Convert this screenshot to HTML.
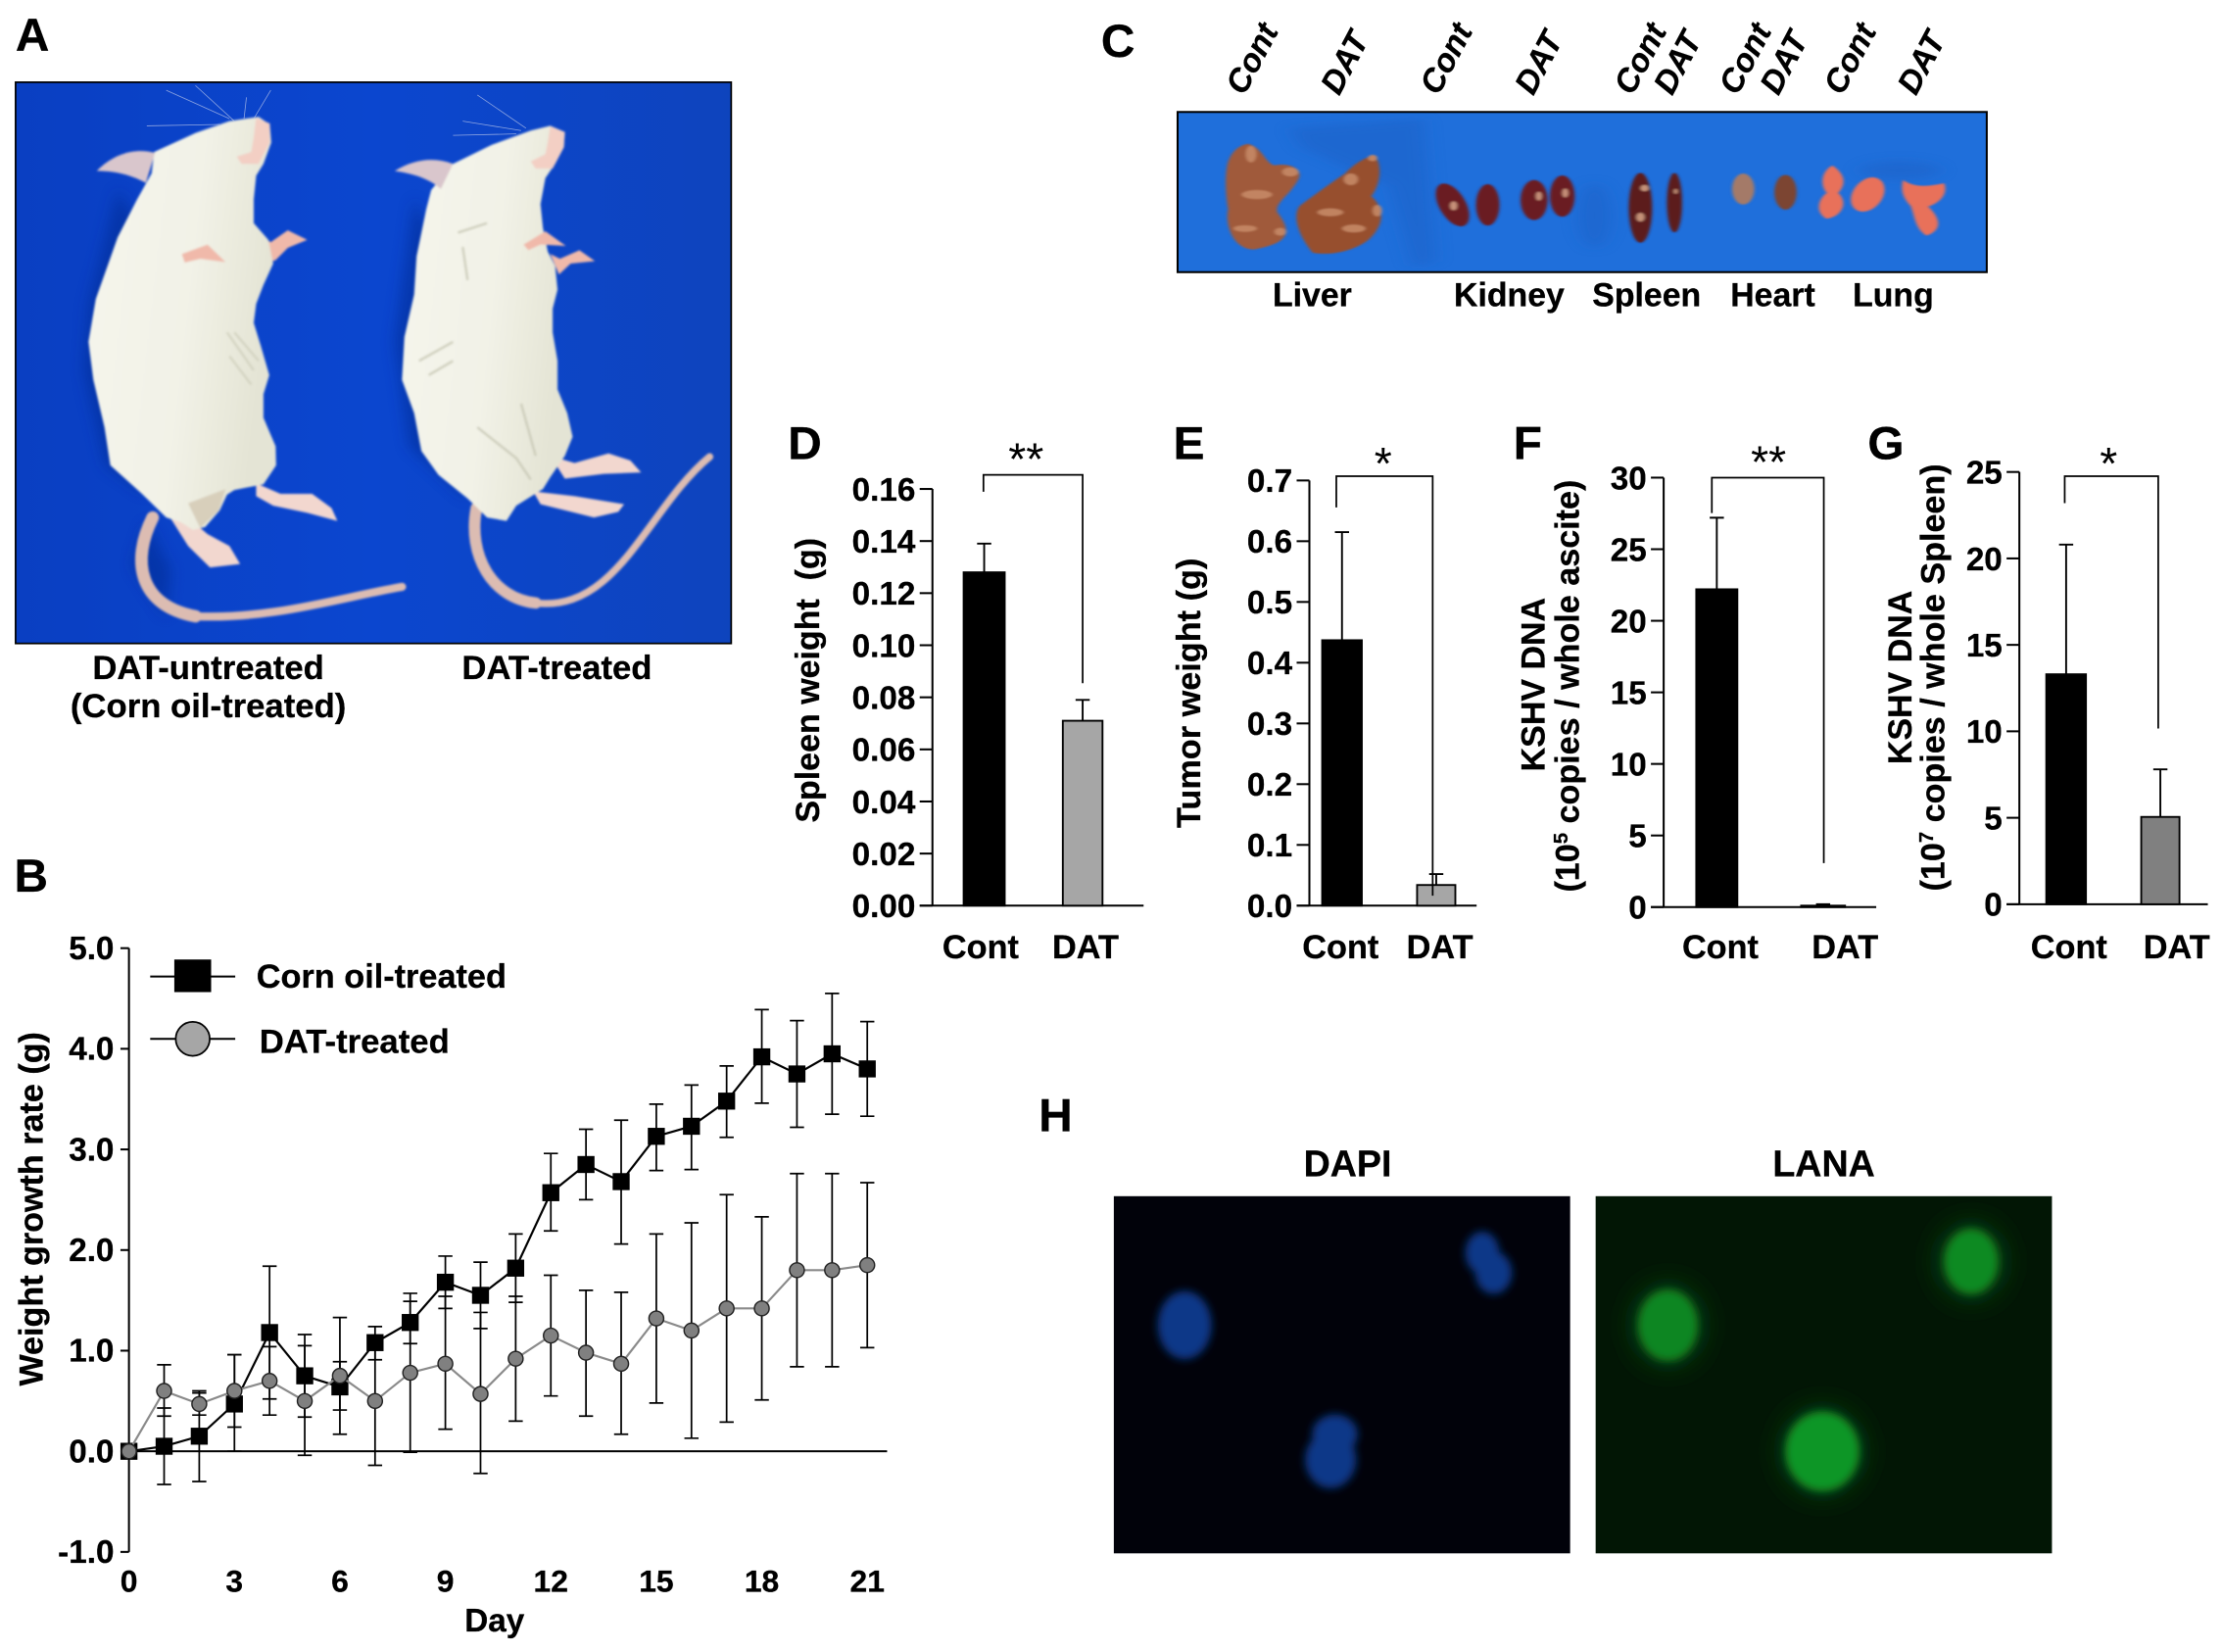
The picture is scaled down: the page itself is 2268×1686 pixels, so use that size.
<!DOCTYPE html>
<html lang="en">
<head>
<meta charset="utf-8">
<title>DAT treatment figure</title>
<style>
html,body{margin:0;padding:0;background:#fff;}
svg{display:block;}
text{font-family:"Liberation Sans",Arial,sans-serif;font-weight:bold;fill:#000;stroke:#000;stroke-width:0.2;}
</style>
</head>
<body>
<svg id="fig" xmlns="http://www.w3.org/2000/svg" width="2268" height="1686" viewBox="0 0 1568 1165.6">
<defs>
<filter id="soft" x="-10%" y="-10%" width="120%" height="120%"><feGaussianBlur stdDeviation="2.2"/></filter>
<filter id="softOrgan" x="-10%" y="-10%" width="120%" height="120%"><feGaussianBlur stdDeviation="2.5"/></filter>
<filter id="shadow" x="-30%" y="-30%" width="160%" height="160%"><feGaussianBlur stdDeviation="14"/></filter>
<filter id="glow" x="-50%" y="-50%" width="200%" height="200%"><feGaussianBlur stdDeviation="3"/></filter>
<filter id="glow2" x="-80%" y="-80%" width="260%" height="260%"><feGaussianBlur stdDeviation="10"/></filter>
<linearGradient id="fur" x1="0" y1="0" x2="1" y2="0.25"><stop offset="0" stop-color="#f5f5ec"/><stop offset="0.6" stop-color="#f2f2e7"/><stop offset="1" stop-color="#e4e4d5"/></linearGradient>
<linearGradient id="bgA" x1="0" y1="0" x2="1" y2="0"><stop offset="0" stop-color="#0a3fc2"/><stop offset="0.5" stop-color="#0b46cf"/><stop offset="1" stop-color="#0e44bd"/></linearGradient>
</defs>

<!-- Panel A -->
<text x="11" y="36" font-size="33">A</text>
<rect x="11" y="58" width="505" height="396" fill="url(#bgA)" stroke="#000" stroke-width="1.2"/>
<g transform="translate(0.7,0) scale(0.343,0.335)">
  <g fill="#062c92" opacity="0.55" filter="url(#shadow)">
    <path d="M240,400 L180,640 L170,780 L215,980 L300,1040 L300,500Z"/>
    <path d="M850,420 L810,720 L840,940 L960,1050 L940,600Z"/>
    <path d="M300,1100 L270,1190 L340,1300 L350,1200Z"/>
  </g>
  <g filter="url(#soft)">
    <g>
      <path d="M312,1090 C268,1180 282,1275 400,1298" fill="none" stroke="#dcbcb2" stroke-width="26" stroke-linecap="round"/>
      <path d="M400,1298 C560,1305 700,1258 825,1236" fill="none" stroke="#dcbcb2" stroke-width="17" stroke-linecap="round"/>
      <path d="M525,1018 L575,1040 L640,1040 L680,1070 L692,1097 L630,1080 L560,1065 L525,1045Z" fill="#f2d7cf"/>
      <path d="M345,1085 L385,1090 L425,1125 L470,1150 L492,1188 L430,1195 L385,1150Z" fill="#f2d7cf"/>
      <path d="M525,490 L555,510 L590,485 L630,505 L590,522 L565,548 L530,560Z" fill="#f0b9aa"/>
      <path d="M553,262 L556,300 L540,345 L525,370 L520,420 L520,470 L550,505 L560,555 L540,600 L525,640 L520,680 L535,730 L552,790 L540,830 L540,880 L565,940 L566,980 L540,1020 L480,1032 L465,1042 L450,1075 L420,1110 L395,1116 L370,1100 L340,1090 L290,1040 L225,980 L213,900 L190,800 L180,720 L195,630 L240,500 L280,420 L310,365 L315,320 L400,280 L470,255 L530,246Z" fill="url(#fur)"/>
      <path d="M197,360 C235,320 280,312 317,322 L298,385 C260,365 230,360 197,360Z" fill="#d9c6cc"/>
      <path d="M525,248 L553,260 L553,300 L530,345 L495,345 L485,330 L515,320 L520,290Z" fill="#f3cfc4"/>
      <path d="M372,535 L425,515 L462,552 L410,545 L378,553Z" fill="#f0b9aa"/>
      <path d="M385,1060 L462,1030 L448,1075 L410,1112Z" fill="#d8cfbb"/>
      <g stroke="#cfcfbd" stroke-width="5" fill="none" opacity="0.8">
        <path d="M465,700 L520,780 M480,700 L530,760 M470,750 L515,810"/>
      </g>
    </g>
    <g>
      <path d="M978,1070 C960,1170 1010,1260 1100,1270" fill="none" stroke="#dcbcb2" stroke-width="24" stroke-linecap="round"/>
      <path d="M1100,1270 C1270,1290 1330,1070 1458,962" fill="none" stroke="#dcbcb2" stroke-width="15" stroke-linecap="round"/>
      <path d="M1130,960 L1180,975 L1250,955 L1295,970 L1317,995 L1240,998 L1160,1008Z" fill="#f2d7cf"/>
      <path d="M1095,1035 L1180,1045 L1282,1062 L1270,1078 L1220,1090 L1110,1062Z" fill="#f2d7cf"/>
      <path d="M1130,535 L1150,545 L1190,527 L1222,550 L1172,555 L1148,578Z" fill="#f0b9aa"/>
      <path d="M1160,278 L1158,310 L1140,345 L1120,375 L1110,430 L1115,480 L1125,530 L1140,560 L1145,610 L1135,650 L1135,700 L1145,760 L1145,820 L1165,870 L1176,920 L1160,960 L1130,1005 L1115,1030 L1060,1065 L1040,1097 L1000,1090 L960,1050 L900,1000 L865,950 L850,870 L825,800 L830,710 L850,620 L855,540 L875,440 L885,400 L930,345 L1010,305 L1090,275 L1130,265Z" fill="url(#fur)"/>
      <path d="M810,360 C850,335 890,330 930,345 L905,398 C880,375 845,365 810,360Z" fill="#d9c6cc"/>
      <path d="M1130,266 L1160,278 L1158,310 L1135,355 L1100,355 L1090,340 L1120,325 L1125,300Z" fill="#f3cfc4"/>
      <path d="M1075,515 L1120,487 L1162,518 L1110,515 L1085,527Z" fill="#f0b9aa"/>
      <g stroke="#c8c8b5" stroke-width="5" fill="none" opacity="0.85">
        <path d="M980,900 L1060,965 L1090,1010 M860,760 L930,720 M880,790 L930,760 M1070,850 L1100,960 M940,490 L1000,470 M950,520 L960,590"/>
      </g>
    </g>
  </g>
  <g stroke="#b9c6ea" stroke-width="1.6" fill="none" opacity="0.75">
    <path d="M480,255 L400,180 M470,250 L340,190 M500,250 L505,205 M520,250 L555,190 M450,262 L300,265 M1080,270 L980,200 M1070,275 L950,255 M1060,282 L930,285"/>
  </g>
</g>
<text x="147" y="479" font-size="24" text-anchor="middle">DAT-untreated</text>
<text x="147" y="506" font-size="24" text-anchor="middle">(Corn oil-treated)</text>
<text x="393" y="479" font-size="24" text-anchor="middle">DAT-treated</text>

<!-- Panel C -->
<text x="777" y="40" font-size="33">C</text>
<g font-size="23">
  <text transform="translate(878,68) rotate(-62)" style="font-style:italic">Cont</text>
  <text transform="translate(945,68) rotate(-62)" style="font-style:italic">DAT</text>
  <text transform="translate(1015,68) rotate(-62)" style="font-style:italic">Cont</text>
  <text transform="translate(1082,68) rotate(-62)" style="font-style:italic">DAT</text>
  <text transform="translate(1152,68) rotate(-62)" style="font-style:italic">Cont</text>
  <text transform="translate(1180,68) rotate(-62)" style="font-style:italic">DAT</text>
  <text transform="translate(1226,68) rotate(-62)" style="font-style:italic">Cont</text>
  <text transform="translate(1255,68) rotate(-62)" style="font-style:italic">DAT</text>
  <text transform="translate(1300,68) rotate(-62)" style="font-style:italic">Cont</text>
  <text transform="translate(1352,68) rotate(-62)" style="font-style:italic">DAT</text>
</g>
<rect x="831" y="79" width="571" height="113" fill="#1f6fdb" stroke="#000" stroke-width="1.4"/>
<g transform="translate(760.5,1.4) scale(0.4145,0.2283)">
  <g fill="#1a62c8" opacity="0.55" filter="url(#shadow)">
    <path d="M360,390 L590,360 L610,800 L570,820 L530,570 L380,450Z"/>
    <ellipse cx="880" cy="660" rx="28" ry="100"/>
    <ellipse cx="1400" cy="520" rx="70" ry="30"/>
  </g>
  <g filter="url(#softOrgan)">
    <path d="M290,438 C315,450 320,500 335,505 C365,495 385,520 375,550 C360,600 335,620 340,650 C365,710 362,745 300,765 C265,765 250,690 256,640 C252,600 250,540 255,500 C260,470 270,445 290,438Z" fill="#a05a3a"/>
    <path d="M505,472 C518,500 517,560 500,600 C524,640 522,690 495,735 C470,770 430,785 400,775 C375,720 365,660 378,630 C400,600 430,560 455,530 C470,500 490,480 505,472Z" fill="#97502f"/>
    <g fill="#c98c6a" opacity="0.85">
      <ellipse cx="295" cy="470" rx="9" ry="26"/><ellipse cx="362" cy="525" rx="14" ry="14"/><ellipse cx="305" cy="595" rx="26" ry="14"/><ellipse cx="285" cy="700" rx="20" ry="10"/><ellipse cx="345" cy="710" rx="10" ry="12"/>
      <ellipse cx="502" cy="482" rx="8" ry="10"/><ellipse cx="465" cy="548" rx="12" ry="18"/><ellipse cx="510" cy="645" rx="8" ry="18"/><ellipse cx="430" cy="650" rx="22" ry="12"/><ellipse cx="470" cy="700" rx="20" ry="12"/>
    </g>
    <g fill="#6b1a22">
      <ellipse cx="638" cy="627" rx="24" ry="68" transform="rotate(-14 638 627)"/>
      <ellipse cx="698" cy="627" rx="20" ry="64"/>
      <ellipse cx="777" cy="612" rx="23" ry="62"/>
      <ellipse cx="825" cy="600" rx="21" ry="64"/>
    </g>
    <g fill="#5c1a1c">
      <ellipse cx="958" cy="636" rx="20" ry="108"/>
      <ellipse cx="1016" cy="620" rx="13" ry="92"/>
    </g>
    <g fill="#e0b090" opacity="0.8">
      <ellipse cx="965" cy="575" rx="7" ry="10"/><ellipse cx="958" cy="665" rx="7" ry="14"/><ellipse cx="1018" cy="585" rx="3" ry="8"/>
      <ellipse cx="640" cy="630" rx="6" ry="14"/><ellipse cx="785" cy="600" rx="5" ry="14"/><ellipse cx="830" cy="590" rx="5" ry="14"/>
    </g>
    <ellipse cx="1133" cy="578" rx="19" ry="48" fill="#a47a68"/>
    <ellipse cx="1205" cy="588" rx="19" ry="54" fill="#7c4430"/>
    <g fill="#e8715a">
      <path d="M1285,505 C1305,530 1310,560 1295,590 C1312,620 1302,662 1275,670 C1255,650 1260,610 1275,590 C1262,560 1268,520 1285,505Z"/>
      <ellipse cx="1345" cy="595" rx="27" ry="54" transform="rotate(12 1345 595)"/>
      <path d="M1405,550 C1425,575 1450,570 1475,560 C1482,590 1470,620 1448,632 C1470,670 1472,705 1445,722 C1425,700 1425,660 1418,630 C1402,600 1402,575 1405,550Z"/>
    </g>
  </g>
</g>
<g font-size="23.4" text-anchor="middle">
  <text x="926" y="216">Liver</text>
  <text x="1065" y="216">Kidney</text>
  <text x="1162" y="216">Spleen</text>
  <text x="1251" y="216">Heart</text>
  <text x="1336" y="216">Lung</text>
</g>

<!-- Panel labels -->
<text x="10" y="629" font-size="33">B</text>
<text x="556" y="324" font-size="33">D</text>
<text x="828" y="324" font-size="33">E</text>
<text x="1068" y="324" font-size="33">F</text>
<text x="1318" y="324" font-size="33">G</text>
<text x="733" y="798" font-size="33">H</text>

<!-- Bar chart titles -->
<text transform="translate(578,480) rotate(-90)" font-size="23.5" text-anchor="middle" xml:space="preserve">Spleen weight  (g)</text>
<text transform="translate(847,489) rotate(-90)" font-size="23.7" text-anchor="middle">Tumor weight (g)</text>
<text transform="translate(1090,483) rotate(-90)" font-size="23.5" text-anchor="middle">KSHV DNA</text>
<text transform="translate(1114,484) rotate(-90)" font-size="23.6" text-anchor="middle">(10<tspan dy="-8" font-size="14">5</tspan><tspan dy="8"> copies / whole ascite)</tspan></text>
<text transform="translate(1349,478) rotate(-90)" font-size="23.5" text-anchor="middle">KSHV DNA</text>
<text transform="translate(1372,478) rotate(-90)" font-size="23.6" text-anchor="middle">(10<tspan dy="-8" font-size="14">7</tspan><tspan dy="8"> copies / whole Spleen)</tspan></text>

<!-- Panel H -->
<text x="951" y="830" font-size="26" text-anchor="middle">DAPI</text>
<text x="1287" y="830" font-size="26" text-anchor="middle">LANA</text>
<g>
  <rect x="786" y="844" width="322" height="252" fill="#01020a"/>
  <g fill="#0a3888" filter="url(#glow)">
    <ellipse cx="836" cy="935" rx="19" ry="24"/>
    <g>
      <ellipse cx="1046" cy="884" rx="12" ry="15"/>
      <ellipse cx="1054" cy="898" rx="13" ry="15"/>
    </g>
    <g>
      <ellipse cx="942" cy="1012" rx="16" ry="14"/>
      <ellipse cx="939" cy="1030" rx="18" ry="20"/>
    </g>
  </g>
</g>
<g>
  <rect x="1126" y="844" width="322" height="252" fill="#021605"/>
  <g fill="#0c4a14" filter="url(#glow2)">
    <ellipse cx="1177" cy="935" rx="24" ry="28"/><ellipse cx="1391" cy="890" rx="23" ry="26"/><ellipse cx="1286" cy="1024" rx="28" ry="30"/>
  </g>
  <g filter="url(#glow)">
    <ellipse cx="1177" cy="935" rx="21" ry="25" fill="#0f8622"/>
    <ellipse cx="1391" cy="890" rx="19" ry="23" fill="#0f8a22"/>
    <ellipse cx="1286" cy="1024" rx="26" ry="28" fill="#109628"/>
  </g>
</g>

<g id="lineChart"></g>
<g id="barCharts"></g>
</svg>

<script>
// ---- Panel B data ----
const days = [0,1,2,3,4,5,6,7,8,9,10,11,12,13,14,15,16,17,18,19,20,21];
const cornMean  = [0,0.05,0.15,0.47,1.18,0.75,0.64,1.08,1.28,1.68,1.55,1.82,2.57,2.85,2.68,3.13,3.23,3.48,3.92,3.75,3.95,3.80];
const cornUpper = [0,0.43,0.60,0.96,1.84,1.16,0.89,1.24,1.57,1.94,1.88,2.16,2.96,3.20,3.29,3.45,3.64,3.83,4.39,4.28,4.55,4.27];
const cornLower = [0,-0.33,-0.30,0.00,0.52,0.34,0.41,0.91,1.07,1.42,1.22,1.48,2.19,2.50,2.06,2.79,2.80,3.12,3.46,3.22,3.35,3.33];
const datMean   = [0,0.60,0.47,0.60,0.70,0.50,0.75,0.50,0.78,0.87,0.57,0.92,1.15,0.98,0.87,1.32,1.20,1.42,1.42,1.80,1.80,1.85];
const datUpper  = [0,0.86,0.58,0.96,1.04,1.05,1.33,1.14,1.49,1.54,1.38,1.54,1.75,1.60,1.58,2.16,2.27,2.55,2.33,2.76,2.76,2.67];
const datLower  = [0,0.35,0.36,0.24,0.36,-0.04,0.17,-0.14,-0.01,0.22,-0.22,0.30,0.55,0.35,0.17,0.48,0.13,0.29,0.51,0.84,0.84,1.03];
const lineYTicks = [5,4,3,2,1,0,-1];
const lineXTicks = [0,3,6,9,12,15,18,21];

// ---- Panel D-G data ----
const barCategories = ['Cont','DAT'];
const spleenValues = [0.128,0.071];
const spleenErrors = [0.139,0.079];
const spleenTicks = [0,0.02,0.04,0.06,0.08,0.10,0.12,0.14,0.16];
const tumorValues = [0.437,0.034];
const tumorErrors = [0.615,0.052];
const tumorTicks = [0,0.1,0.2,0.3,0.4,0.5,0.6,0.7];
const asciteValues = [22.2,0.1];
const asciteErrors = [27.2,0.2];
const asciteTicks = [0,5,10,15,20,25,30];
const spleenCopyValues = [13.3,5.05];
const spleenCopyErrors = [20.8,7.8];
const spleenCopyTicks = [0,5,10,15,20,25];

const NS = 'http://www.w3.org/2000/svg';
function mk(parent, tag, attrs, txt) {
  const e = document.createElementNS(NS, tag);
  for (const k in attrs) e.setAttribute(k, attrs[k]);
  if (txt !== undefined) e.textContent = txt;
  parent.appendChild(e);
  return e;
}
const LW = 1.4;

// ---- Line chart ----
(function () {
  const root = document.getElementById('lineChart');
  const sx = d => 91 + (d - 0) * (612 - 91) / 21;
  const sy = v => 1024 - v * (1024 - 669) / 5;

  const yAxis = mk(root, 'line', {x1: sx(0), x2: sx(0), y1: sy(5), y2: sy(-1), stroke: '#000', 'stroke-width': LW});
  
  
  const zero = mk(root, 'line', {x1: sx(0), x2: 626, y1: sy(0), y2: sy(0), stroke: '#000', 'stroke-width': LW});
  
  

  lineYTicks.forEach(v => {
    const t = mk(root, 'line', {x1: sx(0) - 6, x2: sx(0), y1: sy(v), y2: sy(v), stroke: '#000', 'stroke-width': LW});
    
    
    const l = mk(root, 'text', {x: sx(0) - 10.5, y: sy(v) + 7.8, 'font-size': 23, 'text-anchor': 'end'}, v.toFixed(1));
    
    
  });
  lineXTicks.forEach(d => {
    const l = mk(root, 'text', {x: sx(d), y: 1123, 'font-size': 22, 'text-anchor': 'middle'}, String(d));
    
    
  });
  const xt = mk(root, 'text', {x: 349, y: 1151, 'font-size': 23, 'text-anchor': 'middle'}, 'Day');
  
  
  const yt = mk(root, 'text', {transform: 'translate(30,853) rotate(-90)', 'font-size': 23.6, 'text-anchor': 'middle'}, 'Weight growth rate (g)');
  
  

  function errorBars(upper, lower, label) {
    days.forEach((d, i) => {
      if (upper[i] === lower[i]) return;
      const g = mk(root, 'path', {
        d: 'M' + sx(d) + ',' + sy(upper[i]) + 'V' + sy(lower[i]) +
           'M' + (sx(d) - 5) + ',' + sy(upper[i]) + 'h10' +
           'M' + (sx(d) - 5) + ',' + sy(lower[i]) + 'h10',
        fill: 'none', stroke: '#000', 'stroke-width': 1.2});
      
      
    });
  }
  errorBars(cornUpper, cornLower, 'corn-oil');
  errorBars(datUpper, datLower, 'dat');

  const cornLine = mk(root, 'polyline', {points: days.map((d, i) => sx(d) + ',' + sy(cornMean[i])).join(' '), fill: 'none', stroke: '#000', 'stroke-width': 1.5});
  
  
  days.forEach((d, i) => {
    const m = mk(root, 'rect', {x: sx(d) - 6, y: sy(cornMean[i]) - 6, width: 12, height: 12, fill: '#000'});
    
    
  });
  const datLine = mk(root, 'polyline', {points: days.map((d, i) => sx(d) + ',' + sy(datMean[i])).join(' '), fill: 'none', stroke: '#8a8a8a', 'stroke-width': 1.5});
  
  
  days.forEach((d, i) => {
    const m = mk(root, 'circle', {cx: sx(d), cy: sy(datMean[i]), r: 5.2, fill: '#808080', stroke: '#222', 'stroke-width': 1});
    
    
  });

  // legend
  const ll1 = mk(root, 'line', {x1: 106, x2: 166, y1: 689, y2: 689, stroke: '#000', 'stroke-width': 1.4});
  
  
  const ls1 = mk(root, 'rect', {x: 123, y: 677, width: 26, height: 23, fill: '#000'});
  
  
  const lt1 = mk(root, 'text', {x: 181, y: 697, 'font-size': 23.7}, 'Corn oil-treated');
  
  
  const ll2 = mk(root, 'line', {x1: 106, x2: 166, y1: 733, y2: 733, stroke: '#000', 'stroke-width': 1.4});
  
  
  const ls2 = mk(root, 'ellipse', {cx: 136, cy: 733, rx: 12, ry: 12, fill: '#a6a6a6', stroke: '#000', 'stroke-width': 1.2});
  
  
  const lt2 = mk(root, 'text', {x: 183, y: 743, 'font-size': 24}, 'DAT-treated');
  
  
})();

// ---- Bar charts ----
function drawBarPanel(cfg, values, errors, ticks, digits) {
  const root = mk(document.getElementById('barCharts'), 'g', {});
  
  
  const max = ticks[ticks.length - 1];
  const sy = v => cfg.y0 - v * (cfg.y0 - cfg.yMax) / max;

  const ax = mk(root, 'line', {x1: cfg.axisX, x2: cfg.axisX, y1: sy(max), y2: sy(0), stroke: '#000', 'stroke-width': LW});
  
  
  const bl = mk(root, 'line', {x1: cfg.axisX - 9, x2: cfg.baseEnd, y1: sy(0), y2: sy(0), stroke: '#000', 'stroke-width': LW});
  
  

  ticks.forEach(v => {
    const t = mk(root, 'line', {x1: cfg.axisX - 9, x2: cfg.axisX, y1: sy(v), y2: sy(v), stroke: '#000', 'stroke-width': LW});
    
    
    const l = mk(root, 'text', {x: cfg.axisX - 12, y: sy(v) + 8.2, 'font-size': 23, 'text-anchor': 'end'}, v.toFixed(digits));
    
    
  });

  barCategories.forEach((c, i) => {
    const w = cfg.barW[i], x = cfg.barX[i], mid = x + w / 2;
    const eb = mk(root, 'path', {
      d: 'M' + mid + ',' + sy(values[i]) + 'V' + sy(errors[i]) + 'M' + (mid - 5) + ',' + sy(errors[i]) + 'h10',
      fill: 'none', stroke: '#000', 'stroke-width': 1.3});
    
    
    const b = mk(root, 'rect', {x: x, y: sy(values[i]), width: w, height: sy(0) - sy(values[i]), fill: cfg.fills[i], stroke: '#000', 'stroke-width': 1.3});
    
    
    const l = mk(root, 'text', {x: cfg.labelX[i], y: 676, 'font-size': 23.7, 'text-anchor': 'middle'}, c);
    
    
  });

  const br = mk(root, 'path', {d: 'M' + cfg.bx1 + ',' + cfg.bLeftEnd + 'V' + cfg.bTop + 'H' + cfg.bx2 + 'V' + cfg.bRightEnd, fill: 'none', stroke: '#000', 'stroke-width': 1.2});
  
  
  const st = mk(root, 'text', {x: cfg.starX, y: cfg.starY, 'font-size': 32, 'text-anchor': 'middle', style: 'font-weight:normal;stroke:none'}, cfg.stars);
  
  
}

drawBarPanel({name:'spleen-weight', axisX:658, y0:639, yMax:345, baseEnd:807, barX:[680,750], barW:[29,28], fills:['#000','#a6a6a6'], labelX:[692,766], bx1:694, bx2:764, bTop:335, bLeftEnd:347, bRightEnd:482, stars:'**', starX:724, starY:335}, spleenValues, spleenErrors, spleenTicks, 2);
drawBarPanel({name:'tumor-weight', axisX:924, y0:639, yMax:339, baseEnd:1042, barX:[933,1000], barW:[28,27], fills:['#000','#a6a6a6'], labelX:[946,1016], bx1:943, bx2:1011, bTop:336, bLeftEnd:358, bRightEnd:632, stars:'*', starX:976, starY:338}, tumorValues, tumorErrors, tumorTicks, 1);
drawBarPanel({name:'kshv-ascite', axisX:1174, y0:640, yMax:337, baseEnd:1324, barX:[1197,1271], barW:[29,31], fills:['#000','#000'], labelX:[1214,1302], bx1:1208, bx2:1287, bTop:337, bLeftEnd:362, bRightEnd:609, stars:'**', starX:1248, starY:337}, asciteValues, asciteErrors, asciteTicks, 0);
drawBarPanel({name:'kshv-spleen', axisX:1425, y0:638, yMax:333, baseEnd:1558, barX:[1444,1511], barW:[28,27], fills:['#000','#808080'], labelX:[1460,1536], bx1:1457, bx2:1523, bTop:336, bLeftEnd:355, bRightEnd:514, stars:'*', starX:1488, starY:338}, spleenCopyValues, spleenCopyErrors, spleenCopyTicks, 0);
</script>
</body>
</html>
